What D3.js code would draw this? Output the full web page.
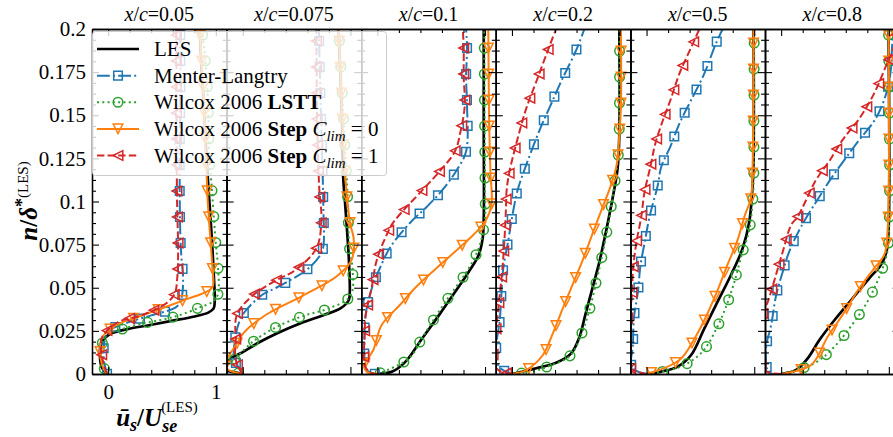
<!DOCTYPE html>
<html>
<head>
<meta charset="utf-8">
<script src="https://cdn.jsdelivr.net/npm/d3@7"></script>
<style>
  body { margin: 0; background: #fff; }
  svg { display: block; }
  text { font-family: "Liberation Serif", "DejaVu Serif", serif; fill: #000; }
</style>
</head>
<body>
<svg id="fig" width="893" height="437"></svg>
<script>
// Streamwise stations (x/c) of the velocity profiles
const stations = ["0.05", "0.075", "0.1", "0.2", "0.5", "0.8"];

// Axis ticks
const yMajorTicks = [0, 0.025, 0.05, 0.075, 0.1, 0.125, 0.15, 0.175, 0.2];
const yTickLabels = ["0", "0.025", "0.05", "0.075", "0.1", "0.125", "0.15", "0.175", "0.2"];
const xMajorTicks = [0, 1];
const xTickLabels = ["0", "1"];
const xMinorTicks = [0.2, 0.4, 0.6, 0.8];

// Profiles: [u_s / U_se, n / delta*], one list per station
const les = [
  [[-0.01,0],[-0.06,0.004],[-0.076,0.010],[-0.07,0.016],[-0.045,0.0197],[0.017,0.0232],[0.17,0.0259],[0.39,0.0284],[0.60,0.0309],[0.79,0.0332],[0.93,0.0356],[0.98,0.038],[0.99,0.043],[0.983,0.055],[0.967,0.074],[0.948,0.093],[0.927,0.112],[0.905,0.135],[0.885,0.16],[0.865,0.18],[0.85,0.2]],
  [[0,0],[-0.12,0.0015],[-0.2,0.003],[-0.16,0.006],[-0.1,0.0095],[-0.02,0.012],[0.136,0.0178],[0.32,0.0236],[0.537,0.0294],[0.753,0.0342],[0.907,0.038],[0.985,0.0429],[0.994,0.0477],[0.985,0.067],[0.954,0.096],[0.932,0.115],[0.923,0.144],[0.907,0.173],[0.89,0.2]],
  [[0,0],[0.139,0.0014],[0.26,0.007],[0.417,0.0207],[0.571,0.034],[0.71,0.0465],[0.849,0.0593],[0.941,0.069],[0.978,0.0786],[0.988,0.09],[0.988,0.144],[0.988,0.2]],
  [[0,0],[0.225,0.0033],[0.41,0.0065],[0.55,0.012],[0.627,0.0215],[0.68,0.034],[0.755,0.0515],[0.812,0.065],[0.873,0.0825],[0.935,0.102],[0.981,0.119],[0.997,0.139],[0.997,0.2]],
  [[0,0],[0.136,0.0014],[0.29,0.0043],[0.414,0.011],[0.537,0.0265],[0.66,0.042],[0.784,0.0574],[0.892,0.0728],[0.954,0.0883],[0.985,0.1096],[0.994,0.125],[0.994,0.2]],
  [[0,0],[0.139,0.0023],[0.247,0.0091],[0.355,0.0197],[0.509,0.0323],[0.664,0.0439],[0.818,0.0555],[0.926,0.0632],[0.978,0.0709],[0.997,0.0825],[0.997,0.2]]
];

const menterLangtry = [
  [[-0.01,0],[-0.04,0.008],[-0.04,0.016],[-0.02,0.022],[0.017,0.0255],[0.187,0.030],[0.40,0.034],[0.635,0.039],[0.68,0.0439],[0.696,0.0555],[0.68,0.068],[0.67,0.0815],[0.665,0.10],[0.665,0.13],[0.67,0.16],[0.67,0.2]],
  [[0,0],[-0.03,0.003],[-0.08,0.009],[-0.075,0.0187],[-0.034,0.0300],[0.012,0.0355],[0.178,0.0458],[0.31,0.0500],[0.60,0.0607],[0.72,0.069],[0.748,0.0738],[0.748,0.098],[0.738,0.125],[0.72,0.164],[0.707,0.2]],
  [[0,0],[-0.05,0.0005],[-0.108,0.003],[-0.12,0.009],[-0.12,0.0197],[-0.11,0.034],[-0.05,0.0500],[0.016,0.0603],[0.12,0.0735],[0.309,0.088],[0.46,0.097],[0.605,0.1067],[0.735,0.118],[0.824,0.129],[0.833,0.156],[0.824,0.172],[0.833,0.189],[0.824,0.2]],
  [[0,0],[-0.1,0.003],[-0.14,0.007],[-0.145,0.0168],[-0.114,0.0307],[-0.099,0.0448],[-0.083,0.06],[-0.028,0.0796],[-0.006,0.0883],[0.05,0.106],[0.104,0.1163],[0.254,0.141],[0.353,0.155],[0.46,0.170],[0.594,0.1874],[0.673,0.2]],
  [[0,0],[-0.1,0.002],[-0.142,0.005],[-0.127,0.0168],[-0.117,0.0327],[-0.08,0.0477],[-0.056,0.0632],[-0.019,0.0757],[0.028,0.0912],[0.105,0.1096],[0.136,0.12],[0.222,0.132],[0.306,0.1453],[0.414,0.1588],[0.537,0.1743],[0.645,0.1917],[0.707,0.2]],
  [[0,0],[-0.1,0.0005],[-0.13,0.003],[-0.139,0.0158],[-0.093,0.0284],[-0.046,0.0458],[0.015,0.0593],[0.077,0.0713],[0.185,0.0854],[0.355,0.1028],[0.46,0.113],[0.586,0.124],[0.725,0.1357],[0.877,0.148],[0.978,0.163],[1.02,0.177],[1.03,0.19],[1.04,0.2]]
];

const wilcoxLSTT = [
  [[-0.02,0],[-0.06,0.010],[-0.045,0.0197],[0.017,0.0236],[0.156,0.0265],[0.294,0.029],[0.54,0.032],[0.696,0.0348],[0.85,0.0386],[0.974,0.042],[1.02,0.0464],[1.02,0.062],[1.0,0.0754],[0.98,0.092],[0.96,0.11],[0.94,0.125],[0.93,0.15],[0.912,0.175],[0.87,0.2]],
  [[0,0],[-0.15,0.003],[-0.13,0.006],[-0.07,0.009],[0.1,0.019],[0.33,0.0278],[0.58,0.034],[0.784,0.0377],[1.0,0.0452],[1.02,0.0605],[0.99,0.0738],[0.98,0.089],[0.97,0.108],[0.95,0.13],[0.93,0.155],[0.91,0.178],[0.892,0.2]],
  [[0,0],[0.293,0.009],[0.417,0.021],[0.546,0.0338],[0.67,0.0452],[0.833,0.0597],[0.941,0.0729],[0.997,0.0883],[1.0,0.107],[0.998,0.13],[0.995,0.16],[0.993,0.2]],
  [[0,0],[0.2,0.0015],[0.333,0.0043],[0.54,0.0106],[0.642,0.0226],[0.719,0.037],[0.787,0.0545],[0.827,0.0655],[0.873,0.0796],[0.92,0.0964],[0.966,0.116],[0.99,0.129],[0.997,0.145],[1.0,0.2]],
  [[0,0],[0.321,0.0043],[0.52,0.013],[0.654,0.0269],[0.738,0.039],[0.809,0.052],[0.883,0.069],[0.954,0.0835],[0.985,0.0999],[0.994,0.1096],[0.997,0.15],[1.0,0.2]],
  [[0,0],[0.309,0.0062],[0.494,0.0158],[0.657,0.0284],[0.793,0.041],[0.895,0.0539],[0.972,0.067],[0.997,0.0767],[0.997,0.2]]
];

const wilcoxStepC0 = [
  [[-0.014,0],[-0.06,0.006],[-0.076,0.014],[-0.06,0.0207],[-0.02,0.024],[0.078,0.0285],[0.294,0.0335],[0.54,0.039],[0.742,0.0437],[0.89,0.047],[0.97,0.0505],[0.967,0.062],[0.943,0.0835],[0.925,0.1],[0.915,0.115],[0.905,0.13],[0.887,0.159],[0.85,0.2]],
  [[0,0],[-0.12,0.002],[-0.16,0.004],[-0.134,0.010],[-0.06,0.017],[0.005,0.0236],[0.22,0.0345],[0.56,0.0455],[0.87,0.0565],[1.01,0.066],[1.03,0.0786],[1.0,0.0864],[0.975,0.098],[0.954,0.113],[0.93,0.14],[0.91,0.17],[0.892,0.2]],
  [[0,0],[-0.1,0.0014],[-0.123,0.004],[-0.108,0.007],[-0.038,0.0139],[0.04,0.0284],[0.209,0.040],[0.348,0.0497],[0.533,0.0605],[0.749,0.0725],[0.89,0.0806],[1.0,0.0883],[1.06,0.098],[1.05,0.117],[1.04,0.14],[1.034,0.171],[1.03,0.2]],
  [[0,0],[0.133,0.0023],[0.287,0.011],[0.38,0.0236],[0.472,0.038],[0.549,0.0497],[0.657,0.066],[0.744,0.0806],[0.843,0.097],[0.904,0.1067],[0.972,0.121],[0.997,0.1386],[1.012,0.155],[1.012,0.2]],
  [[0,0],[0.306,0.0081],[0.438,0.0197],[0.552,0.0332],[0.654,0.0477],[0.753,0.0636],[0.84,0.0767],[0.914,0.0922],[0.969,0.1018],[0.985,0.1212],[0.994,0.2]],
  [[0,0],[0.278,0.0052],[0.432,0.0216],[0.586,0.0357],[0.725,0.0497],[0.864,0.0613],[0.957,0.069],[0.988,0.0825],[0.997,0.2]]
];

const wilcoxStepC1 = [
  [[-0.01,0],[-0.05,0.008],[-0.06,0.0207],[0.09,0.030],[0.31,0.034],[0.54,0.041],[0.62,0.0468],[0.64,0.0545],[0.65,0.07],[0.64,0.10],[0.635,0.15],[0.634,0.2]],
  [[0,0],[-0.04,0.004],[-0.07,0.01],[-0.065,0.0187],[-0.056,0.034],[0.083,0.045],[0.33,0.055],[0.483,0.060],[0.684,0.0729],[0.73,0.089],[0.71,0.108],[0.69,0.15],[0.684,0.2]],
  [[0,0],[-0.05,0.0005],[-0.11,0.004],[-0.125,0.01],[-0.12,0.0197],[-0.108,0.034],[-0.053,0.050],[-0.006,0.066],[0.086,0.0806],[0.15,0.088],[0.42,0.1067],[0.571,0.117],[0.72,0.129],[0.772,0.1405],[0.812,0.156],[0.802,0.172],[0.802,0.189],[0.793,0.2]],
  [[0,0],[-0.12,0.002],[-0.17,0.006],[-0.17,0.015],[-0.14,0.03],[-0.115,0.045],[-0.09,0.06],[-0.068,0.0796],[-0.055,0.097],[-0.05,0.106],[-0.025,0.1167],[0.074,0.1414],[0.136,0.1546],[0.229,0.170],[0.336,0.188],[0.41,0.2]],
  [[0,0],[-0.12,0.002],[-0.18,0.006],[-0.17,0.035],[-0.142,0.042],[-0.127,0.0593],[-0.096,0.0757],[-0.049,0.0912],[-0.02,0.105],[0.038,0.1208],[0.078,0.1328],[0.14,0.145],[0.223,0.159],[0.309,0.1747],[0.432,0.1917],[0.49,0.2]],
  [[0,0],[-0.12,0.001],[-0.18,0.004],[-0.17,0.035],[-0.123,0.042],[-0.062,0.0545],[0.015,0.0709],[0.093,0.0864],[0.154,0.0912],[0.324,0.1125],[0.448,0.1235],[0.571,0.1357],[0.725,0.148],[0.864,0.1627],[0.97,0.178],[1.05,0.19],[1.08,0.2]]
];

// ---- layout ----
const plotLeft = 92, panelW = 134.6, plotTop = 29, plotBottom = 374;
const labelFont = 21;

const svg = d3.select("#fig");

const yScale = d3.scaleLinear().domain([0, 0.2]).range([plotBottom, plotTop]);
const xScales = stations.map((_, i) =>
  d3.scaleLinear().domain([-0.15, 1.1]).range([plotLeft + i * panelW, plotLeft + (i + 1) * panelW]));

const yMinorTicks = d3.range(0, 0.2001, 0.00625).filter(v => yMajorTicks.every(m => Math.abs(m - v) > 1e-6));

const series = [
  { data: les, color: "#000000", width: 2.7, dash: null, marker: null },
  { data: menterLangtry, color: "#1f77b4", width: 2, dash: "12.8,3.2,2,3.2", marker: "square" },
  { data: wilcoxLSTT, color: "#2ca02c", width: 2, dash: "2,3.3", marker: "circle" },
  { data: wilcoxStepC0, color: "#ff7f0e", width: 2, dash: null, marker: "tridown" },
  { data: wilcoxStepC1, color: "#d62728", width: 2, dash: "7.4,3.2", marker: "trileft" }
];

function markerPath(kind) {
  const s = kind === "square" ? 8.6 : 9.6, h = s / 2;
  switch (kind) {
    case "square": return `M${-h},${-h}H${h}V${h}H${-h}Z`;
    case "tridown": return `M0,${h}L${-h},${-h}L${h},${-h}Z`;
    case "trileft": return `M${-h},0L${h},${-h}L${h},${h}Z`;
    case "circle": return `M${h},0A${h},${h} 0 1,1 ${-h},0A${h},${h} 0 1,1 ${h},0Z`;
  }
  return "";
}

// markers are spaced evenly along each drawn curve, counted from its upper end
const markerSpacing = 26;
const markerPhase = [6, 12, 19, 22, 14, 6];

const defs = svg.append("defs");
stations.forEach((st, i) => {
  defs.append("clipPath").attr("id", "clip" + i)
    .append("rect")
    .attr("x", xScales[i].range()[0]).attr("y", plotTop)
    .attr("width", panelW).attr("height", plotBottom - plotTop);
});

// ---- panels ----
stations.forEach((st, i) => {
  const xs = xScales[i];
  const g = svg.append("g").attr("class", "panel");
  const plot = g.append("g").attr("clip-path", `url(#clip${i})`);

  const line = d3.line().x(d => xs(d[0])).y(d => yScale(d[1])).curve(d3.curveCatmullRom.alpha(0.5));

  series.forEach(s => {
    const p = plot.append("path")
      .attr("d", line(s.data[i]))
      .attr("fill", "none")
      .attr("stroke", s.color)
      .attr("stroke-width", s.width)
      .attr("stroke-linejoin", "round")
      .attr("stroke-linecap", s.dash ? "butt" : "round");
    if (s.dash) p.attr("stroke-dasharray", s.dash);
    if (s.marker) {
      const node = p.node();
      const total = node.getTotalLength();
      const pts = [];
      for (let l = total - markerPhase[i]; l >= 0; l -= markerSpacing) pts.push(node.getPointAtLength(l));
      plot.selectAll(null).data(pts).enter().append("path")
        .attr("transform", d => `translate(${d.x},${d.y})`)
        .attr("d", markerPath(s.marker))
        .attr("fill", "none")
        .attr("stroke", s.color)
        .attr("stroke-width", 1.5);
    }
  });

  // axes with inward ticks on all four sides
  const styleAxis = sel => {
    sel.selectAll("path.domain").attr("stroke", "#000").attr("stroke-width", 1.3);
    sel.selectAll(".tick line").attr("stroke", "#000").attr("stroke-width", 1.1);
    sel.selectAll("text").attr("font-family", "'Liberation Serif', serif").attr("font-size", labelFont).attr("fill", "#000");
  };
  const x0 = xs.range()[0], x1 = xs.range()[1];

  g.append("g").attr("transform", `translate(${x0},0)`)
    .call(d3.axisLeft(yScale).tickValues(yMajorTicks).tickSizeInner(-7).tickSizeOuter(0).tickPadding(6)
      .tickFormat((d, k) => i === 0 ? yTickLabels[k] : ""))
    .call(styleAxis);
  g.append("g").attr("transform", `translate(${x0},0)`)
    .call(d3.axisLeft(yScale).tickValues(yMinorTicks).tickSizeInner(-4).tickSizeOuter(0).tickFormat(""))
    .call(styleAxis);
  g.append("g").attr("transform", `translate(${x1},0)`)
    .call(d3.axisRight(yScale).tickValues(yMajorTicks).tickSizeInner(-7).tickSizeOuter(0).tickFormat(""))
    .call(styleAxis);
  g.append("g").attr("transform", `translate(${x1},0)`)
    .call(d3.axisRight(yScale).tickValues(yMinorTicks).tickSizeInner(-4).tickSizeOuter(0).tickFormat(""))
    .call(styleAxis);

  g.append("g").attr("transform", `translate(0,${plotBottom})`)
    .call(d3.axisBottom(xs).tickValues(xMajorTicks).tickSizeInner(-7).tickSizeOuter(0).tickPadding(10)
      .tickFormat((d, k) => i === 0 ? xTickLabels[k] : ""))
    .call(styleAxis);
  g.append("g").attr("transform", `translate(0,${plotBottom})`)
    .call(d3.axisBottom(xs).tickValues(xMinorTicks).tickSizeInner(-4).tickSizeOuter(0).tickFormat(""))
    .call(styleAxis);
  g.append("g").attr("transform", `translate(0,${plotTop})`)
    .call(d3.axisTop(xs).tickValues(xMajorTicks).tickSizeInner(-7).tickSizeOuter(0).tickFormat(""))
    .call(styleAxis);
  g.append("g").attr("transform", `translate(0,${plotTop})`)
    .call(d3.axisTop(xs).tickValues(xMinorTicks).tickSizeInner(-4).tickSizeOuter(0).tickFormat(""))
    .call(styleAxis);

  // station title
  const t = svg.append("text")
    .attr("x", (x0 + x1) / 2).attr("y", 21)
    .attr("text-anchor", "middle").attr("font-size", 20);
  t.append("tspan").attr("font-style", "italic").text("x");
  t.append("tspan").text("/");
  t.append("tspan").attr("font-style", "italic").text("c");
  t.append("tspan").text("=" + st);
});

// ---- axis labels ----
const yl = svg.append("text")
  .attr("transform", "translate(37,201) rotate(-90)")
  .attr("text-anchor", "middle").attr("font-size", 25).attr("font-weight", "bold");
yl.append("tspan").attr("font-style", "italic").text("n");
yl.append("tspan").text("/");
yl.append("tspan").attr("font-style", "italic").text("δ");
yl.append("tspan").attr("dy", -9).attr("font-size", 18).text("*");
yl.append("tspan").attr("font-size", 15).attr("font-weight", "normal").text("(LES)");

const xl = svg.append("text")
  .attr("x", 157).attr("y", 426)
  .attr("text-anchor", "middle").attr("font-size", 25).attr("font-weight", "bold");
xl.append("tspan").attr("font-style", "italic").text("ū");
xl.append("tspan").attr("font-style", "italic").attr("font-size", 18).attr("dy", 5).text("s");
xl.append("tspan").attr("dy", -5).text("/");
xl.append("tspan").attr("font-style", "italic").text("U");
xl.append("tspan").attr("font-style", "italic").attr("font-size", 18).attr("dy", 6).text("se");
xl.append("tspan").attr("font-size", 15).attr("font-weight", "normal").attr("dx", -16).attr("dy", -20).text("(LES)");

// ---- legend ----
const lg = svg.append("g");
lg.append("rect")
  .attr("x", 92.5).attr("y", 31.5).attr("width", 294).attr("height", 144).attr("rx", 3)
  .attr("fill", "#fff").attr("fill-opacity", 0.8)
  .attr("stroke", "#cccccc").attr("stroke-width", 1);

const legendRowY = d3.scaleLinear().domain([0, 4]).range([49, 155.5]);
series.forEach((s, k) => {
  const yy = legendRowY(k);
  const l = lg.append("line").attr("x1", 97).attr("x2", 139).attr("y1", yy).attr("y2", yy)
    .attr("stroke", s.color).attr("stroke-width", s.width);
  if (s.dash) l.attr("stroke-dasharray", s.dash);
  if (s.marker) {
    lg.append("path").attr("transform", `translate(118,${yy})`).attr("d", markerPath(s.marker))
      .attr("fill", "none").attr("stroke", s.color).attr("stroke-width", 1.5);
  }
  const t = lg.append("text").attr("x", 154).attr("y", yy + 7).attr("font-size", labelFont);
  if (k === 0) t.text("LES");
  else if (k === 1) t.text("Menter-Langtry");
  else if (k === 2) { t.append("tspan").text("Wilcox 2006 "); t.append("tspan").attr("font-weight", "bold").text("LSTT"); }
  else {
    t.append("tspan").text("Wilcox 2006 ");
    t.append("tspan").attr("font-weight", "bold").text("Step");
    t.append("tspan").text(" ");
    t.append("tspan").attr("font-style", "italic").text("C");
    t.append("tspan").attr("font-style", "italic").attr("font-size", 15).attr("dy", 5).text("lim");
    t.append("tspan").attr("dy", -5).text(" = " + (k === 3 ? "0" : "1"));
  }
});
</script>
</body>
</html>
